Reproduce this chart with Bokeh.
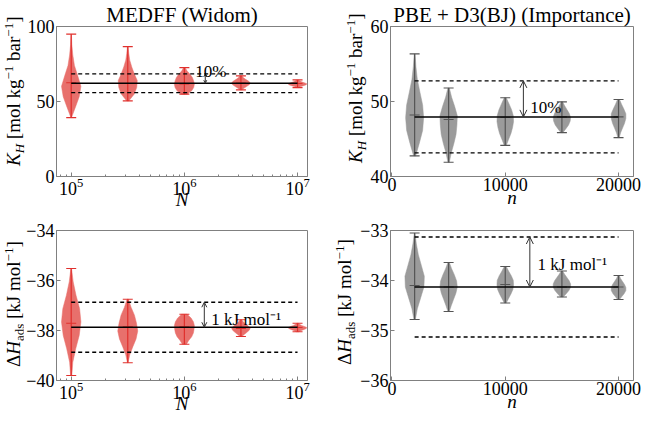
import numpy as np
from bokeh.plotting import figure
from bokeh.models import Range1d, Label, Arrow, OpenHead, FixedTicker, Div
from bokeh.layouts import column, row
from bokeh.embed import file_html
from bokeh.resources import INLINE

FONT = "Liberation Serif"

# ---------------- data ----------------
N_sizes = [1e5, 3.16e5, 1e6, 3.16e6, 1e7]
n_sizes = [2000, 5000, 10000, 15000, 20000]

kh_medff_min = [39.3, 50.4, 54.9, 57.8, 59.3]
kh_medff_max = [94.9, 86.6, 72.6, 67.1, 64.4]
kh_medff_med = [62.5, 62.0, 61.8, 62.2, 62.0]
kh_medff_prof = [
    [0.03, 0.42, 0.80, 0.97, 0.65, 0.32, 0.16, 0.06, 0.02],
    [0.10, 0.65, 0.90, 0.95, 0.65, 0.40, 0.20, 0.10, 0.03],
    [0.27, 0.73, 0.93, 1.00, 0.93, 0.80, 0.57, 0.27, 0.07],
    [0.10, 0.33, 0.60, 0.85, 0.93, 0.75, 0.47, 0.23, 0.07],
    [0.13, 0.33, 0.60, 0.87, 0.93, 0.67, 0.40, 0.20, 0.07],
]
kh_medff_mean = 62.2

dh_medff_min = [-39.8, -39.29, -38.55, -38.24, -38.05]
dh_medff_max = [-35.52, -36.75, -37.35, -37.57, -37.71]
dh_medff_med = [-37.71, -37.85, -37.85, -37.92, -37.88]
dh_medff_prof = [
    [0.06, 0.16, 0.45, 0.80, 0.97, 0.84, 0.48, 0.20, 0.03],
    [0.03, 0.20, 0.50, 0.83, 1.00, 0.87, 0.67, 0.33, 0.07],
    [0.20, 0.43, 0.73, 0.90, 0.97, 1.00, 0.90, 0.67, 0.27],
    [0.10, 0.33, 0.60, 0.83, 0.93, 0.73, 0.47, 0.23, 0.07],
    [0.13, 0.33, 0.60, 0.87, 0.93, 0.67, 0.40, 0.20, 0.07],
]
dh_medff_mean = -37.87

kh_pbe_min = [42.75, 41.9, 44.15, 45.85, 45.18]
kh_pbe_max = [56.35, 51.8, 50.5, 49.96, 50.27]
kh_pbe_med = [48.2, 47.6, 47.9, 47.95, 47.95]
kh_pbe_prof = [
    [0.10, 0.47, 0.80, 0.90, 0.80, 0.53, 0.27, 0.13, 0.04],
    [0.07, 0.26, 0.52, 0.74, 0.83, 0.87, 0.61, 0.30, 0.07],
    [0.10, 0.33, 0.57, 0.73, 0.83, 0.80, 0.63, 0.37, 0.10],
    [0.10, 0.40, 0.67, 0.83, 0.87, 0.73, 0.50, 0.27, 0.07],
    [0.07, 0.20, 0.40, 0.60, 0.73, 0.73, 0.53, 0.30, 0.10],
]
kh_pbe_mean = 47.95

dh_pbe_min = [-34.78, -34.62, -34.45, -34.33, -34.38]
dh_pbe_max = [-33.05, -33.64, -33.72, -33.81, -33.90]
dh_pbe_med = [-34.10, -34.13, -34.08, -34.13, -34.13]
dh_pbe_prof = [
    [0.07, 0.27, 0.60, 0.93, 0.97, 0.67, 0.37, 0.17, 0.03],
    [0.07, 0.27, 0.50, 0.73, 0.87, 0.80, 0.57, 0.30, 0.07],
    [0.10, 0.33, 0.57, 0.77, 0.83, 0.80, 0.60, 0.33, 0.10],
    [0.13, 0.43, 0.70, 0.87, 0.87, 0.73, 0.50, 0.27, 0.07],
    [0.10, 0.33, 0.57, 0.73, 0.73, 0.60, 0.40, 0.20, 0.07],
]
dh_pbe_mean = -34.13

# ---------------- styling / layout ----------------
RED_FILL = "#e8706c"
RED_LINE = "#e0302d"
GREY_FILL = "#9b9b9b"
GREY_LINE = "#555555"
FRAME = "#808080"
FH = 150
HALF_W_PX = 10.0
CAP_PX = 5.0
FWL, FWR = 251, 243
TITLE_H, AX_H, GAP = 19, 40, 18
H_TOP = TITLE_H + FH + AX_H
H_BOT = GAP + FH + AX_H
LOGR = (10 ** 4.870, 10 ** 7.088)
LINR = (-130, 21320)


def uminus(v):
    return ("%g" % v).replace("-", "\u2212")


def make_fig(xlog, xr, yr, yticks, fw, bl, br, bt, title=None, xlabel="", xticks=None):
    p = figure(x_axis_type="log" if xlog else "linear",
               x_range=Range1d(*xr), y_range=Range1d(*yr),
               frame_width=fw, frame_height=FH,
               min_border_left=bl, min_border_right=br,
               min_border_top=bt, min_border_bottom=10,
               output_backend="svg", toolbar_location=None)
    p.grid.visible = False
    p.outline_line_color = FRAME
    p.outline_line_width = 1
    for ax in (p.xaxis[0], p.yaxis[0]):
        ax.major_label_text_font = FONT
        ax.major_label_text_font_size = "18px"
        ax.major_label_text_color = "black"
        ax.axis_line_color = FRAME
        ax.major_tick_line_color = FRAME
        ax.minor_tick_line_color = FRAME
        ax.major_tick_in = 4
        ax.major_tick_out = 0
        ax.minor_tick_in = 2
        ax.minor_tick_out = 0
    p.xaxis.major_label_standoff = 1
    p.yaxis.major_label_standoff = 2
    p.yaxis.ticker = FixedTicker(ticks=yticks)
    p.yaxis.minor_tick_line_color = None
    p.yaxis.major_label_overrides = {float(t): uminus(t) for t in yticks}
    if xticks is not None:
        p.xaxis.ticker = FixedTicker(ticks=xticks)
        p.xaxis.minor_tick_line_color = None
    p.xaxis.axis_label = xlabel
    p.xaxis.axis_label_text_font = FONT
    p.xaxis.axis_label_text_font_size = "19px"
    p.xaxis.axis_label_text_font_style = "italic"
    p.xaxis.axis_label_text_color = "black"
    p.xaxis.axis_label_standoff = -9 if xlog else -7
    if title:
        p.title.text = title
        p.title.text_font = FONT
        p.title.text_font_size = "21px"
        p.title.text_font_style = "normal"
        p.title.text_color = "black"
        p.title.align = "center"
        p.title.standoff = 0
    return p


def px_to_x(p, xlog, fw, c, dpx):
    s, e = p.x_range.start, p.x_range.end
    if xlog:
        d = (np.log10(e) - np.log10(s)) / fw
        return c * 10 ** (dpx * d)
    return c + dpx * (e - s) / fw


def violins(p, xlog, fw, centers, vmin, vmax, vmed, prof, fill, line):
    xs, ys = [], []
    for c, lo, hi, w in zip(centers, vmin, vmax, prof):
        lev = np.linspace(lo, hi, len(w))
        right = [px_to_x(p, xlog, fw, c, wi * HALF_W_PX) for wi in w]
        left = [px_to_x(p, xlog, fw, c, -wi * HALF_W_PX) for wi in w]
        xs.append(right + left[::-1])
        ys.append(list(lev) + list(lev[::-1]))
    p.patches(xs, ys, fill_color=fill, line_color=fill, line_width=0.5)
    p.segment(x0=centers, y0=vmin, x1=centers, y1=vmax, line_color=line, line_width=1.2)
    cl = [px_to_x(p, xlog, fw, c, -CAP_PX) for c in centers]
    cr = [px_to_x(p, xlog, fw, c, CAP_PX) for c in centers]
    for vals in (vmin, vmax, vmed):
        p.segment(x0=cl, y0=vals, x1=cr, y1=vals, line_color=line, line_width=1.2)


def ref_lines(p, centers, mean, lo, hi):
    x0, x1 = centers[0], centers[-1]
    p.segment(x0=[x0], y0=[mean], x1=[x1], y1=[mean], line_color="black", line_width=1.5)
    p.segment(x0=[x0, x0], y0=[lo, hi], x1=[x1, x1], y1=[lo, hi],
              line_color="black", line_width=1.3, line_dash="4 3")


def data_text(p, x, y, text, size="17px"):
    p.add_layout(Label(x=x, y=y, text=text, text_font=FONT, text_font_size=size,
                       text_baseline="alphabetic", text_align="left", text_color="black"))


def arrow(p, x, y0, y1, size, color):
    p.add_layout(Arrow(start=OpenHead(size=size, line_color=color, line_width=1),
                       end=OpenHead(size=size, line_color=color, line_width=1),
                       x_start=x, y_start=y0, x_end=x, y_end=y1,
                       line_color=color, line_width=1))


SUB = 'style="font-size:13px;vertical-align:-4px;line-height:0"'
SUP = 'style="font-size:13px;vertical-align:7px;line-height:0"'
KH_HTML = ('<i>K</i><span %s><i>H</i></span> [mol kg<span %s>\u22121</span> '
           'bar<span %s>\u22121</span>]' % (SUB, SUP, SUP))
DH_HTML = ('\u0394<i>H</i><span %s>ads</span> [kJ mol<span %s>\u22121</span>]' % (SUB, SUP))


def ylabel_div(w, h, baseline_x, start_y, inner):
    x = baseline_x - 15.9
    html = ('<div style="transform-origin:0 0;transform:translate(%.1fpx,%.1fpx) rotate(-90deg);'
            'white-space:nowrap;font-family:\'Liberation Serif\',serif;font-size:19px;'
            'line-height:19px;color:#000;margin:0;padding:0;">%s</div>' % (x, start_y, inner))
    return Div(text=html, width=w, height=h, styles={"overflow": "visible", "margin": "0", "padding": "0"})


p1 = make_fig(True, LOGR, (0, 100), [0, 50, 100], FWL, 30, 13, TITLE_H,
              title="MEDFF (Widom)", xlabel="N")
violins(p1, True, FWL, N_sizes, kh_medff_min, kh_medff_max, kh_medff_med, kh_medff_prof, RED_FILL, RED_LINE)
ref_lines(p1, N_sizes, kh_medff_mean, kh_medff_mean * 0.9, kh_medff_mean * 1.1)
arrow(p1, 1.53e6, kh_medff_mean, kh_medff_mean * 1.1, 3, "#333333")
data_text(p1, 1.25e6, 70.0, "10%")

p2 = make_fig(False, LINR, (40, 60), [40, 50, 60], FWR, 22, 8, TITLE_H,
              title="PBE + D3(BJ) (Importance)", xlabel="n", xticks=[0, 10000, 20000])
violins(p2, False, FWR, n_sizes, kh_pbe_min, kh_pbe_max, kh_pbe_med, kh_pbe_prof, GREY_FILL, GREY_LINE)
ref_lines(p2, n_sizes, kh_pbe_mean, kh_pbe_mean * 0.9, kh_pbe_mean * 1.1)
arrow(p2, 11600, kh_pbe_mean, kh_pbe_mean * 1.1, 7, "#333333")
data_text(p2, 12200, 49.2, "10%")

p3 = make_fig(True, LOGR, (-40, -34), [-40, -38, -36, -34], FWL, 31, 13, GAP, xlabel="N")
violins(p3, True, FWL, N_sizes, dh_medff_min, dh_medff_max, dh_medff_med, dh_medff_prof, RED_FILL, RED_LINE)
ref_lines(p3, N_sizes, dh_medff_mean, dh_medff_mean - 1, dh_medff_mean + 1)
arrow(p3, 1.5e6, dh_medff_mean, dh_medff_mean + 1, 5, "#333333")
data_text(p3, 1.73e6, -37.57, "1 kJ mol\u207b\u00b9")

p4 = make_fig(False, LINR, (-36, -33), [-36, -35, -34, -33], FWR, 32, 8, GAP,
              xlabel="n", xticks=[0, 10000, 20000])
violins(p4, False, FWR, n_sizes, dh_pbe_min, dh_pbe_max, dh_pbe_med, dh_pbe_prof, GREY_FILL, GREY_LINE)
ref_lines(p4, n_sizes, dh_pbe_mean, dh_pbe_mean - 1, dh_pbe_mean + 1)
arrow(p4, 12170, dh_pbe_mean, dh_pbe_mean + 1, 7, "#333333")
data_text(p4, 12850, -33.67, "1 kJ mol\u207b\u00b9")

fb_top = TITLE_H + FH
fb_bot = GAP + FH
d1 = ylabel_div(24, H_TOP, 19.5, fb_top - 3, KH_HTML)
d2 = ylabel_div(47, H_TOP, 42.0, fb_top - 6, KH_HTML)
d3 = ylabel_div(23, H_BOT, 19.5, fb_bot - 13, DH_HTML)
d4 = ylabel_div(37, H_BOT, 31.0, fb_bot - 15, DH_HTML)

layout = column(row(d1, p1, d2, p2), row(d3, p3, d4, p4))
open("out.html", "w").write(file_html(layout, INLINE))
